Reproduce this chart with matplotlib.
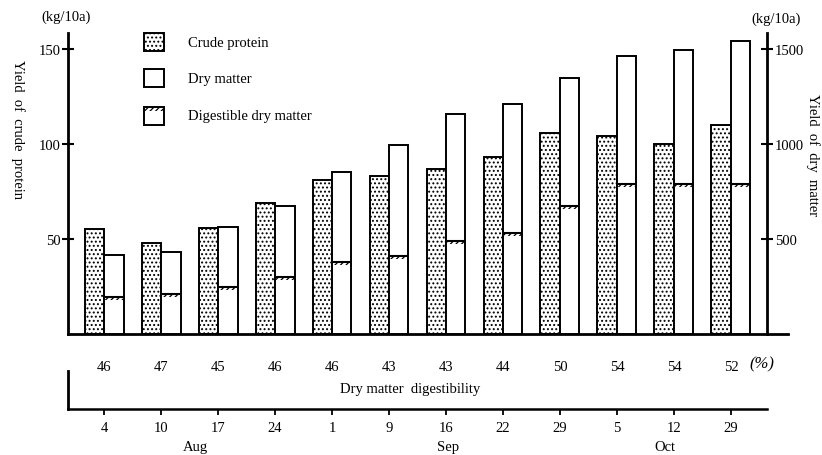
import numpy as np
import matplotlib.pyplot as plt
from matplotlib.patches import Rectangle

plt.rcParams['font.family'] = ['Liberation Serif', 'DejaVu Serif']
plt.rcParams['hatch.linewidth'] = 0.9

# Values
dates = ['4', '10', '17', '24', '1', '9', '16', '22', '29', '5', '12', '29']
months = ['Aug', 'Sep', 'Oct']
month_pos = [1.6, 6.03, 9.84]
crude_protein = [55, 48, 56, 69, 81, 83, 87, 93, 106, 104, 100, 110]     # kg/10a, left axis
dry_matter = [415, 430, 565, 675, 850, 995, 1158, 1210, 1347, 1462, 1493, 1540]  # kg/10a, right axis
digestible_dm = [195, 210, 247, 300, 379, 410, 490, 532, 675, 790, 790, 790]
digestibility = [46, 47, 45, 46, 46, 43, 43, 44, 50, 54, 54, 52]     # %

W, H = 822, 456
fig = plt.figure(figsize=(W / 100, H / 100), dpi=100)


def fx(px):
    return px / W


def fy(py):
    return 1 - py / H


# Main axes: left edge x=68, right x=767, baseline y=335, top y=34
ax = fig.add_axes([fx(68), fy(335), fx(767 - 68), (335 - 34) / H])
ax2 = ax.twinx()
x = np.arange(len(dates))
w = 0.342

ax.set_xlim(-0.632, 11.632)
ax.set_ylim(0, 158.4)
ax2.set_ylim(0, 1584)

ax.bar(x - w / 2, crude_protein, width=w, facecolor='white', edgecolor='black',
       linewidth=1.4, hatch='....', zorder=2)
ax2.bar(x + w / 2, dry_matter, width=w, facecolor='white', edgecolor='black',
        linewidth=1.4, zorder=2)
# digestible dry matter: a line across the dry matter bar with hatch under it
ax2.bar(x + w / 2, [16] * len(x), bottom=np.array(digestible_dm) - 16, width=w * 0.9,
        facecolor='none', edgecolor='black', linewidth=0, hatch='//////', zorder=3)
ax2.hlines(digestible_dm, x + 0.01, x + w - 0.01, color='black', linewidth=1.5, zorder=3)

for a in (ax, ax2):
    a.spines['top'].set_visible(False)
    a.spines['bottom'].set_visible(False)
ax.spines['right'].set_visible(False)
ax.spines['left'].set_linewidth(2.0)
ax2.spines['left'].set_visible(False)
ax2.spines['right'].set_linewidth(2.0)

# baseline running past the right axis
ax.plot([-0.632, 12.0], [0, 0], color='black', linewidth=2.0, clip_on=False, zorder=4)

ax.set_yticks([50, 100, 150])
ax.tick_params(axis='y', direction='inout', length=9, width=1.5, labelsize=10.5, pad=1)
ax2.set_yticks([500, 1000, 1500])
ax2.tick_params(axis='y', direction='inout', length=9, width=1.5, labelsize=10.5, pad=1)

# digestibility values as x tick labels of the main axes
ax.set_xticks(x)
ax.set_xticklabels([str(v) for v in digestibility], fontsize=10.5)
ax.tick_params(axis='x', length=0, pad=19)

# lower date axis
axd = fig.add_axes([fx(68), fy(410), fx(767 - 68), (410 - 372) / H])
axd.set_xlim(-0.632, 11.632)
axd.set_ylim(0, 1)
axd.patch.set_alpha(0)
for s in ('top', 'right'):
    axd.spines[s].set_visible(False)
axd.spines['left'].set_linewidth(2.0)
axd.spines['bottom'].set_linewidth(1.8)
axd.set_yticks([])
axd.set_xticks(x)
axd.set_xticklabels(dates, fontsize=10.5)
axd.tick_params(axis='x', direction='out', length=4, width=1.3, pad=5)
for m, p in zip(months, month_pos):
    axd.text(p, -1.0, m, ha='center', va='center', fontsize=10.5,
             transform=axd.get_xaxis_transform())

fig.text(fx(410), fy(389), 'Dry matter  digestibility', ha='center', va='center', fontsize=10.5)
fig.text(fx(762), fy(364), '(%)', ha='center', va='center', fontsize=12, style='italic')

# units and axis titles
fig.text(fx(66), fy(17), '(kg/10a)', ha='center', va='center', fontsize=10.5)
fig.text(fx(776), fy(19), '(kg/10a)', ha='center', va='center', fontsize=10.5)
fig.text(fx(18), fy(130), 'Yield  of  crude  protein', rotation=270, ha='center', va='center',
         fontsize=10.5)
fig.text(fx(813), fy(155), 'Yield  of  dry  matter', rotation=270, ha='center', va='center',
         fontsize=10.5)

# legend
legend_rows = [('Crude protein', 43), ('Dry matter', 79), ('Digestible dry matter', 117)]
for i, (label, yc) in enumerate(legend_rows):
    r = Rectangle((fx(144), fy(yc + 9)), fx(20), 18 / H, transform=fig.transFigure,
                  facecolor='white', edgecolor='black', linewidth=1.4,
                  hatch='....' if i == 0 else None)
    fig.add_artist(r)
    if i == 2:
        fig.add_artist(Rectangle((fx(145), fy(yc - 5)), fx(18), 4 / H, transform=fig.transFigure,
                                 facecolor='none', edgecolor='black', linewidth=0, hatch='//////'))
    fig.text(fx(188), fy(yc), label, ha='left', va='center', fontsize=10.5)

fig.savefig('out.png', dpi=100)
